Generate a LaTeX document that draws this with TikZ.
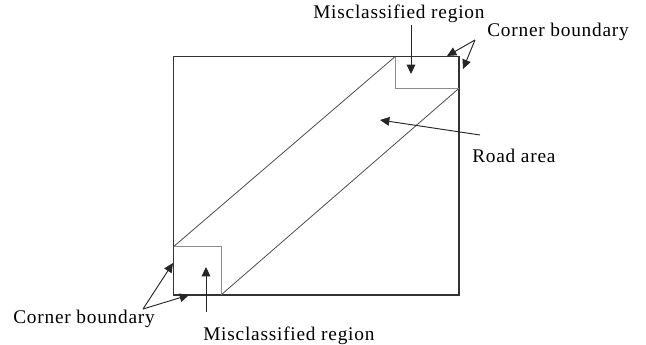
\documentclass[tikz,border=0pt]{standalone}
\usepackage{fontspec}
\setmainfont{Liberation Serif}
\usetikzlibrary{arrows.meta}
\tikzset{
  frame/.style={draw=black!80, line width=0.9pt},
  road/.style={draw=black!70, line width=0.6pt},
  cell/.style={draw=black!45, line width=0.6pt},
  tag/.style={font=\fontsize{14.5}{16}\selectfont\addfontfeature{LetterSpace=4}, inner sep=0pt, anchor=base west},
  pointer/.style={-{Triangle[length=7pt, width=6.5pt]}, line width=0.7pt, draw=black!85},
}

\begin{document}
\begin{tikzpicture}[x=0.75pt, y=-0.75pt]
\useasboundingbox (0,0) rectangle (646,345);
% outer image and its corners
\coordinate (tl) at (173.5,56.7);
\coordinate (br) at (459,295);
\draw[frame] (tl) rectangle (br);
% road band
\coordinate (ua) at (173.5,246.7);
\coordinate (ub) at (395,56.7);
\coordinate (la) at (221,295);
\coordinate (lb) at (459,88.3);
\draw[road] (ua) -- (ub);
\draw[road] (la) -- (lb);
% misclassified corner cells
\draw[cell] (ua) -| (la);
\draw[cell] (ub) |- (lb);
% labels
\node[tag] (misTop) at (313,19) {Misclassified region};
\node[tag] (cornTop) at (487,36.5) {Corner boundary};
\node[tag] (roadLbl) at (472,162.5) {Road area};
\node[tag] (cornBot) at (13,324) {Corner boundary};
\node[tag] (misBot) at (203,340) {Misclassified region};
% pointer ends
\coordinate (misTopRoot) at (411,25);
\coordinate (misTopTip) at (411,74);
\coordinate (misBotRoot) at (206,312);
\coordinate (misBotTip) at (206,267);
\coordinate (roadRoot) at (480,135);
\coordinate (roadTip) at (380,120);
\coordinate (cornTopRoot) at (475,40);
\coordinate (cornTopA) at (447,56);
\coordinate (cornTopB) at (463,69);
\coordinate (cornBotRoot) at (143,309);
\coordinate (cornBotA) at (173,263);
\coordinate (cornBotB) at (189,295);
% pointers
\draw[pointer] (misTopRoot) -- (misTopTip);
\draw[pointer] (misBotRoot) -- (misBotTip);
\draw[pointer] (roadRoot) -- (roadTip);
\draw[pointer] (cornTopRoot) -- (cornTopA);
\draw[pointer] (cornTopRoot) -- (cornTopB);
\draw[pointer] (cornBotRoot) -- (cornBotA);
\draw[pointer] (cornBotRoot) -- (cornBotB);
\end{tikzpicture}
\end{document}
